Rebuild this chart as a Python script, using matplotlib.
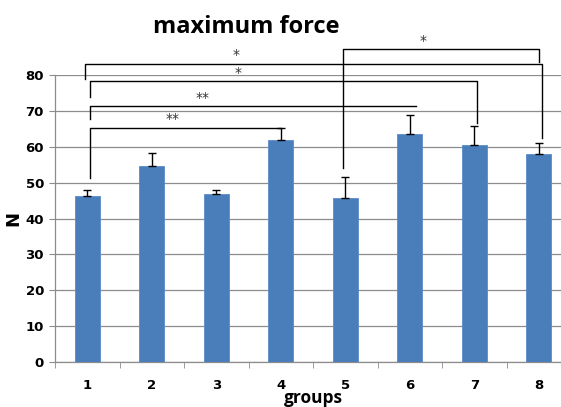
import numpy as np
import matplotlib
matplotlib.use("Agg")
import matplotlib.pyplot as plt
from matplotlib.ticker import MultipleLocator

# mean maximum force per group and upper error
groups = ['1', '2', '3', '4', '5', '6', '7', '8']
force = [46.2, 54.6, 46.9, 62.0, 45.7, 63.6, 60.4, 58.0]
force_err = [1.8, 3.7, 1.1, 3.1, 5.9, 5.3, 5.4, 3.1]

# significance brackets (x in group index, y in N)
br_x1 = [0.04, 0.04, 0.04, -0.03, 3.97]
br_x2 = [3.0, 5.1, 6.05, 7.05, 7.0]
br_y = [65.3, 71.3, 78.3, 83.2, 87.2]
br_left_end = [51.3, 67.6, 73.9, 79.0, 54.0]
br_right_end = [65.3, 71.3, 66.7, 62.4, 83.7]
br_label = ['**', '**', '*', '*', '*']
br_label_x = [1.33, 1.78, 2.34, 2.31, 5.2]

bar_color = '#4A7EBB'

fig = plt.figure(figsize=(5.61, 4.07), dpi=100)
ax = fig.add_axes([55 / 561, 45 / 407, 516 / 561, 287 / 407])

x = np.arange(len(groups))
ax.bar(x, force, width=0.38, color=bar_color, edgecolor='#5b8bc6', linewidth=0.6, zorder=3)
ax.errorbar(x, force, yerr=[np.zeros(len(force)), force_err], fmt='none',
            ecolor='black', elinewidth=1.0, capsize=3, capthick=1.0, zorder=4)

ax.set_xlim(-0.5, 7.5)
ax.set_ylim(0, 80)
ax.yaxis.set_major_locator(MultipleLocator(10))
ax.grid(axis='y', color='#8c8c8c', linewidth=0.9, zorder=0)
ax.set_axisbelow(True)

for side in ['top', 'right']:
    ax.spines[side].set_visible(False)
for side in ['left', 'bottom']:
    ax.spines[side].set_color('#8c8c8c')
    ax.spines[side].set_linewidth(0.9)

ax.set_xticks(x)
ax.set_xticklabels(groups, fontweight='bold', fontsize=9.5)
ax.set_xticks(np.arange(-0.5, 8.0, 1.0), minor=True)
ax.tick_params(axis='x', which='major', length=0, pad=12)
ax.tick_params(axis='x', which='minor', length=4, color='#8c8c8c', direction='out')
ax.tick_params(axis='y', length=4, color='#8c8c8c', pad=4)
for lab in ax.get_yticklabels():
    lab.set_fontweight('bold')
    lab.set_fontsize(9.5)

ax.set_ylabel('N', fontweight='bold', fontsize=13, labelpad=2)

# axis title under the group numbers and chart title
fig.text(313 / 561, 1 - 403 / 407, 'groups', family='Open Sans', fontweight='bold',
         fontsize=12.5, ha='center', va='baseline')
fig.text(246 / 561, 1 - 33 / 407, 'maximum force', family='Open Sans', fontweight='bold',
         fontsize=17, ha='center', va='baseline')

for i in range(len(br_y)):
    xs = [br_x1[i], br_x1[i], br_x2[i], br_x2[i]]
    ys = [br_left_end[i], br_y[i], br_y[i], br_right_end[i]]
    ax.plot(xs, ys, color='black', linewidth=1.0, clip_on=False, zorder=5)
    ax.text(br_label_x[i], br_y[i] + 0.4, br_label[i], ha='center', va='bottom',
            fontsize=10, color='#333333', clip_on=False)

fig.savefig('out.png', dpi=100)
